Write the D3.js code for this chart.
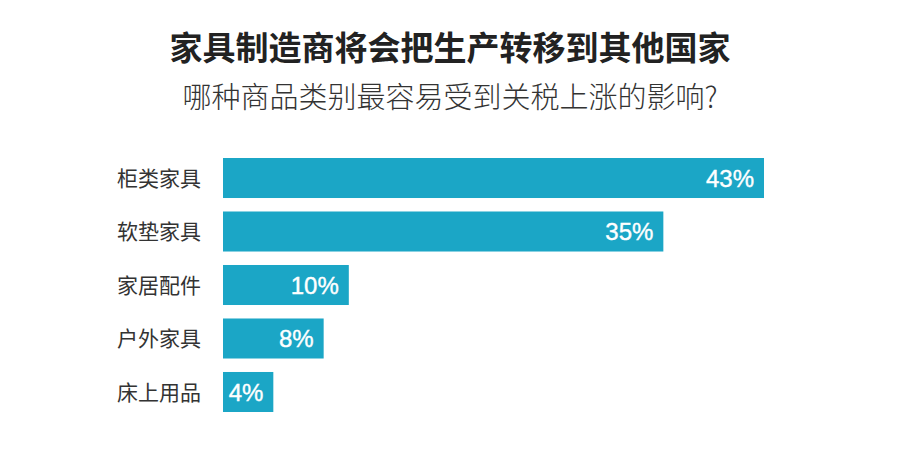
<!DOCTYPE html>
<html><head><meta charset="utf-8">
<script src="https://cdn.jsdelivr.net/npm/d3@7"></script>
<style>body{margin:0;background:#fff;}</style>
</head><body>
<svg id="c" width="900" height="450"></svg>
<script>
const title = "家具制造商将会把生产转移到其他国家";
const subtitle = "哪种商品类别最容易受到关税上涨的影响?";
const categories = ["柜类家具","软垫家具","家居配件","户外家具","床上用品"];
const values = [43,35,10,8,4];

const svg = d3.select("#c");
const font = "'Noto Sans CJK SC','Liberation Sans',sans-serif";
svg.append("rect").attr("width",900).attr("height",450).attr("fill","#fff");

svg.append("text").attr("x",450).attr("y",60).attr("text-anchor","middle")
  .attr("font-family",font).attr("font-size",33).attr("font-weight",700).attr("fill","#222").text(title);
svg.append("text").attr("x",450).attr("y",108).attr("text-anchor","middle")
  .attr("font-family",font).attr("font-size",29).attr("font-weight",300).attr("fill","#333").text(subtitle);

const x = d3.scaleLinear().domain([0,43]).range([223,764]);
const y = d3.scaleBand().domain(categories).range([158,412]).paddingInner(0.252).paddingOuter(0);

const g = svg.append("g");
categories.forEach((c,i)=>{
  const v = values[i];
  g.append("rect").attr("x",x(0)).attr("y",y(c)).attr("width",x(v)-x(0)).attr("height",y.bandwidth())
    .attr("fill","#1ba6c6");
  g.append("text").attr("x",x(v)-10).attr("y",y(c)+y.bandwidth()/2).attr("dy","0.36em")
    .attr("text-anchor","end").attr("font-family","'Liberation Sans',Arial,sans-serif")
    .attr("font-size",24).attr("fill","#fff").attr("stroke","#fff").attr("stroke-width",0.4).text(v+"%");
  g.append("text").attr("x",117).attr("y",y(c)+y.bandwidth()/2).attr("dy","0.36em")
    .attr("font-family",font).attr("font-size",21).attr("fill","#333").text(c);
});
</script>
</body></html>
